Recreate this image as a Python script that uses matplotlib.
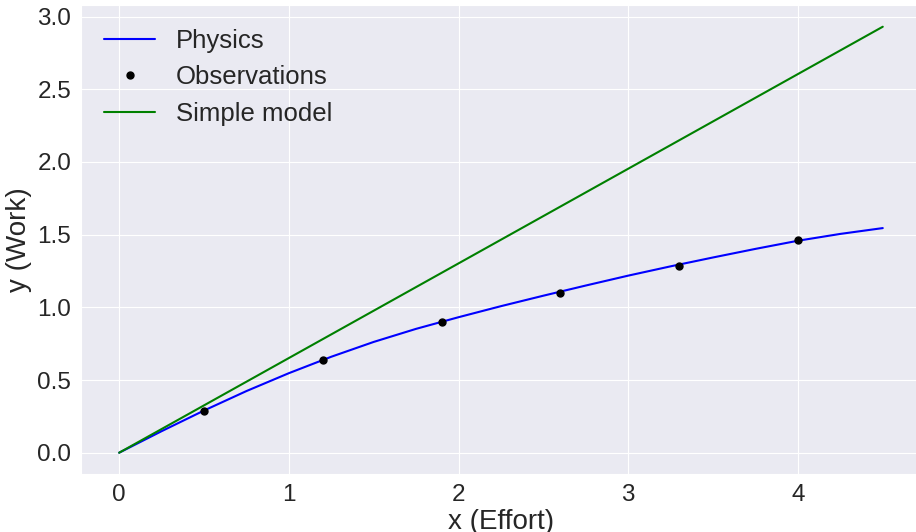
import matplotlib
matplotlib.use('Agg')
import matplotlib.pyplot as plt
import seaborn as sns

# physics curve
x_phys = [0, 0.25, 0.5, 0.75, 1.0, 1.25, 1.5, 1.75, 2.0, 2.25,
          2.5, 2.75, 3.0, 3.25, 3.5, 3.75, 4.0, 4.25, 4.5]
y_phys = [0, 0.148, 0.29, 0.424, 0.547, 0.66, 0.762, 0.852, 0.932, 1.008,
          1.08, 1.15, 1.218, 1.282, 1.343, 1.402, 1.458, 1.505, 1.545]

# observations
x_obs = [0.5, 1.2, 1.9, 2.6, 3.3, 4.0]
y_obs = [0.287, 0.64, 0.899, 1.099, 1.284, 1.461]

# simple model
x_simple = [0, 4.5]
y_simple = [0, 2.93]

sns.set_style('darkgrid')
plt.rcParams['font.family'] = ['Liberation Sans', 'DejaVu Sans']

fig = plt.figure(figsize=(9.16, 5.32), dpi=100)
ax = fig.add_axes([0.0884, 0.109, 0.917, 0.8808])

ax.plot(x_phys, y_phys, color='b', lw=1.5, label='Physics')
ax.plot(x_obs, y_obs, 'ko', ms=5, label='Observations')
ax.plot(x_simple, y_simple, color='g', lw=1.5, label='Simple model')

ax.set_xlabel('x (Effort)', fontsize=20, labelpad=2)
ax.set_ylabel('y (Work)', fontsize=20)
ax.tick_params(labelsize=17.5)
ax.legend(loc='upper left', fontsize=18.5, frameon=False)

fig.savefig('out.png', dpi=100)
